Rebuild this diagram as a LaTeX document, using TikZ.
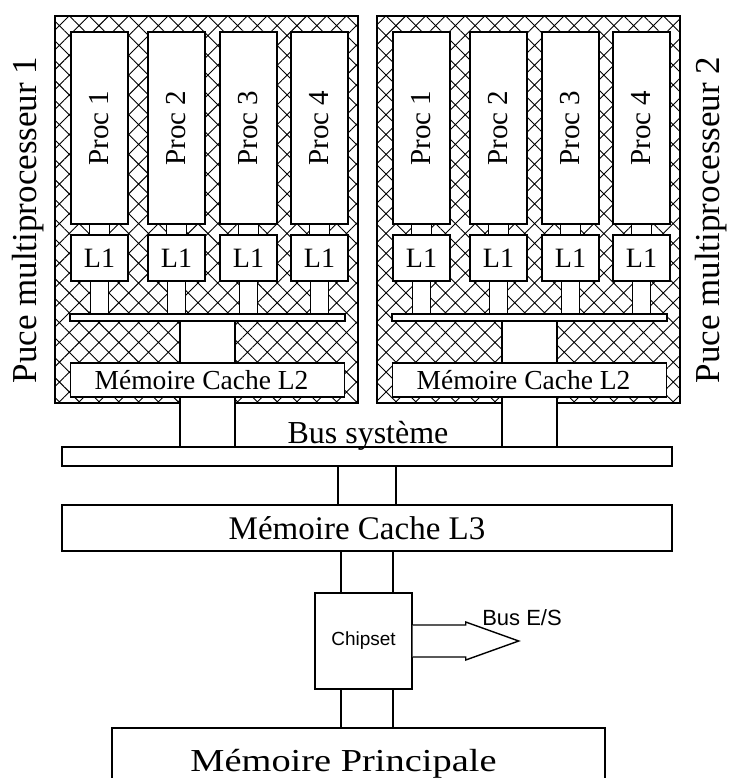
\documentclass[tikz,border=0pt]{standalone}
\usepackage{graphicx}
\usepackage{fontspec}
\setmainfont{Liberation Serif}
\newfontfamily\chipfont{Liberation Sans}
\usepackage{tikz}
\usetikzlibrary{calc,patterns.meta}

\begin{document}
\begin{tikzpicture}[
  x=1pt, y=-1pt,
  chip/.style={draw, line width=1.6pt,
               pattern={Hatch[angle=45,distance=14pt,line width=0.9pt]}},
  box/.style={draw, line width=1.4pt, fill=white, inner sep=0pt},
  link/.style={draw, line width=1.4pt, fill=white},
  proc/.style={box, minimum width=57pt, minimum height=192pt,
               font=\fontsize{29}{29}\selectfont},
  lone/.style={box, minimum width=57pt, minimum height=46pt,
               font=\fontsize{28}{28}\selectfont},
  ltwo/.style={box, minimum width=274pt, minimum height=34pt,
               font=\fontsize{27.5}{28}\selectfont},
  wide/.style={box, minimum width=610pt},
  side/.style={font=\fontsize{35}{35}\selectfont, inner sep=0pt},
  sans/.style={font=\chipfont\fontsize{#1}{#1}\selectfont, inner sep=0pt},
]
\useasboundingbox (0,0) rectangle (729,778);

%% -- bus, caches, chipset -----------------------------------------------
\node[wide, minimum height=19pt] (sysbus) at (367, 456.5) {};
\node[anchor=base, inner sep=0pt, font=\fontsize{32}{32}\selectfont] (bustxt) at (368, 443) {Bus système};
\node[wide, minimum height=46pt, font=\fontsize{33}{33}\selectfont] (lthree) at (367, 528)
    {Mémoire Cache L3\hspace*{20pt}};
\node[box, minimum width=97pt, minimum height=96pt, sans=19] (chipset) at (363.5, 641) {Chipset};
\node[box, minimum width=493pt, minimum height=72pt, font=\fontsize{32}{32}\selectfont] (mainmem) at (358.5, 764)
    {\scalebox{1.2}[1]{Mémoire Principale}\hspace*{30pt}};

\draw[link] ($(sysbus.south)+(-29,0)$) rectangle ($(lthree.north)+(29,0)$);
\draw[link] ($(lthree.south)+(-26,0)$) rectangle ($(chipset.north -| lthree.south)+(26,0)$);
\draw[link] ($(chipset.south -| lthree.south)+(-26,0)$) rectangle ($(mainmem.north -| lthree.south)+(26,0)$);

%% -- E/S arrow ----------------------------------------------------------
\draw[link] ($(chipset.east)+(0,-16)$) -- ++(53,0) -- ++(0,-3) -- ++(53,19)
    -- ++(-53,19) -- ++(0,-3) -- ++(-53,0);
\node[sans=22, anchor=base] (bustxtES) at (522, 625) {Bus E/S};

%% -- the two chips ------------------------------------------------------
\foreach \c/\dx in {A/0, B/322}{
  \node[chip, minimum width=303pt, minimum height=387pt] (chip\c) at (206.5+\dx, 209.5) {};
  \foreach \i/\px in {1/99.5, 2/176.5, 3/248.5, 4/319.5}{
    \node[proc] (proc\c\i) at (\px+\dx, 128) {\rotatebox{90}{Proc \i}};
    \node[lone] (lone\c\i) at (\px+\dx, 258) {L1};
    \draw[link] ($(proc\c\i.south)+(-10,0)$) rectangle ($(lone\c\i.north)+(10,0)$);
  }
  \node[box, minimum width=275pt, minimum height=7pt] (bar\c) at (207.5+\dx, 317.5) {};
  \foreach \i in {1,...,4}
    \draw[link] ($(lone\c\i.south)+(-9,0)$) rectangle ($(bar\c.north -| lone\c\i.south)+(9,0)$);
  \node[ltwo] (ltwo\c) at (207.5+\dx, 380) {Mémoire Cache L2\hspace*{12pt}};
  \draw[link] ($(bar\c.south)+(-27.5,0)$) rectangle ($(ltwo\c.north)+(27.5,0)$);
  \draw[link] ($(ltwo\c.south)+(-27.5,0)$) rectangle ($(sysbus.north -| ltwo\c.south)+(27.5,0)$);
}

%% -- chip labels --------------------------------------------------------
\node[side, rotate=90, anchor=base] (sideA) at (36, 220) {Puce multiprocesseur 1};
\node[side, rotate=90, anchor=base] (sideB) at (719, 220) {Puce multiprocesseur 2};
\end{tikzpicture}
\end{document}
